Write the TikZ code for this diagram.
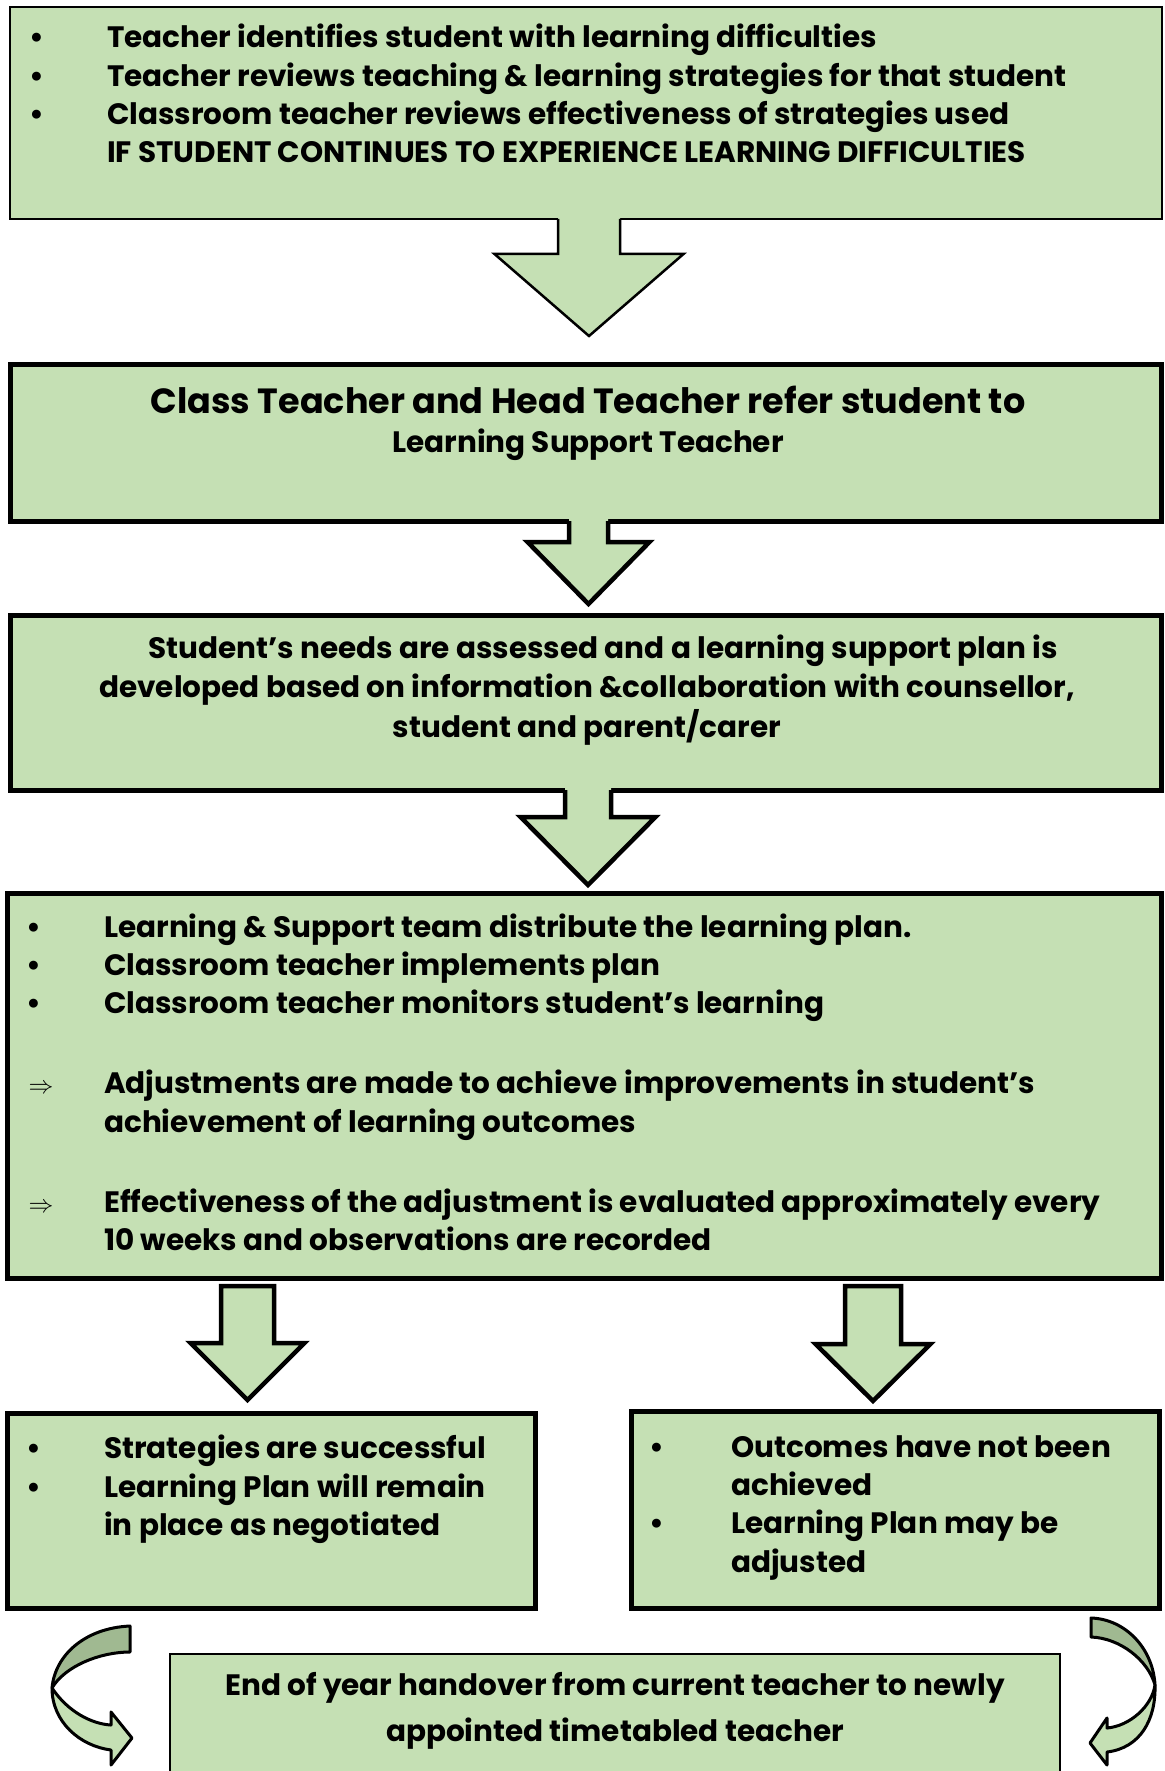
\documentclass[tikz,border=0pt]{standalone}
\usepackage{fontspec}
\setmainfont{Poppins}
\usetikzlibrary{calc}

\definecolor{boxgreen}{HTML}{C5E0B4}
\definecolor{ribbondark}{HTML}{A0B991}
\newcommand{\bodyfont}{\fontsize{29.5}{36}\selectfont\bfseries}
% block arrow that opens into the box above it
\newcommand{\blockarrow}[6][4.5pt]{%
  \fill[boxgreen] let \p1 = (#2.south), \p2 = (#3) in
    (\x2-#4, \y1+6pt) -- (\x2-#4, \y2+#6) -- (\x2-#5, \y2+#6) -- (\x2, \y2)
    -- (\x2+#5, \y2+#6) -- (\x2+#4, \y2+#6) -- (\x2+#4, \y1+6pt) -- cycle;
  \draw[arrowshape, line width = #1] let \p1 = (#2.south), \p2 = (#3) in
    (\x2-#4, \y1) -- (\x2-#4, \y2+#6) -- (\x2-#5, \y2+#6) -- (\x2, \y2)
    -- (\x2+#5, \y2+#6) -- (\x2+#4, \y2+#6) -- (\x2+#4, \y1);}
% block arrow standing free below a box
\newcommand{\droparrow}[5]{\draw[arrowshape, fill = boxgreen] let \p1 = (#1.south), \p2 = (#2) in
  (\x2-#3, \y1-8pt) -- (\x2-#3, \y2+#5) -- (\x2-#4, \y2+#5) -- (\x2, \y2)
  -- (\x2+#4, \y2+#5) -- (\x2+#3, \y2+#5) -- (\x2+#3, \y1-8pt) -- cycle;}

\tikzset{
  box/.style = {draw, fill = boxgreen, line width = 5pt, rectangle, inner sep = 0pt, outer sep = 0pt, anchor = north west},
  thinbox/.style = {box, line width = 2.5pt},
  arrowshape/.style = {draw, line width = 4.5pt, line join = miter},
  ribbon/.style = {draw, line width = 3pt, line join = round},
  txt/.style = {anchor = base west, inner sep = 0pt, font = \bodyfont},
  ctxt/.style = {txt, anchor = base},
  bul/.style = {anchor = base, inner sep = 0pt, font = \bodyfont},
}

\begin{document}
\begin{tikzpicture} [x = 1pt, y = -1pt]
\useasboundingbox (0.0, 0.0) rectangle (1164.0, 1771.0);
\node[thinbox, minimum width = 1152pt, minimum height = 212pt] (identify) at (10.0, 7.0){};
\node[box, minimum width = 1151pt, minimum height = 157pt] (refer) at (10.0, 364.0){};
\node[box, minimum width = 1151pt, minimum height = 175pt] (assess) at (10.0, 615.0){};
\node[box, minimum width = 1154pt, minimum height = 385pt] (plan) at (7.0, 893.0){};
\node[box, minimum width = 528pt, minimum height = 195pt] (success) at (7.0, 1413.0){};
\node[box, minimum width = 528pt, minimum height = 197pt] (notmet) at (631.0, 1411.0){};
\node[thinbox, minimum width = 890pt, minimum height = 140pt] (handover) at (170.0, 1654.0){};
\coordinate (tipA) at (589.0, 336.0);
\coordinate (tipB) at (588.5, 604.0);
\coordinate (tipC) at (588.0, 885.0);
\coordinate (tipD) at (247.5, 1400.0);
\coordinate (tipE) at (873.0, 1401.0);
\blockarrow[2.5pt]{identify}{tipA}{31pt}{94.5pt}{82pt}
\blockarrow{refer}{tipB}{19.5pt}{61pt}{62pt}
\blockarrow{assess}{tipC}{23pt}{67.5pt}{68pt}
\droparrow{plan}{tipD}{26.5pt}{57pt}{57pt}
\droparrow{plan}{tipE}{28pt}{57.5pt}{57pt}
\draw[ribbon, fill = ribbondark] (130.0, 1626.0) .. controls (85.0, 1628.0) and (55.0, 1655.0) .. (52.0, 1688.0) .. controls (65.0, 1666.0) and (100.0, 1652.0) .. (130.0, 1652.0) -- cycle;
\draw[ribbon, fill = boxgreen] (52.0, 1688.0) .. controls (68.0, 1712.0) and (92.0, 1724.0) .. (111.0, 1725.0) -- (111.0, 1712.0) -- (132.0, 1738.0) -- (111.0, 1765.0) -- (111.0, 1750.0) .. controls (80.0, 1746.0) and (52.0, 1722.0) .. (52.0, 1688.0) -- cycle;
\draw[ribbon, fill = ribbondark] (1091.0, 1618.0) .. controls (1125.0, 1619.0) and (1153.0, 1648.0) .. (1155.0, 1685.0) .. controls (1148.0, 1660.0) and (1120.0, 1638.0) .. (1091.0, 1637.0) -- cycle;
\draw[ribbon, fill = boxgreen] (1155.0, 1685.0) .. controls (1152.0, 1706.0) and (1130.0, 1726.0) .. (1107.0, 1728.0) -- (1107.0, 1718.0) -- (1090.0, 1743.0) -- (1107.0, 1765.0) -- (1107.0, 1752.0) .. controls (1140.0, 1748.0) and (1156.0, 1720.0) .. (1155.0, 1685.0) -- cycle;
% first box
\node[bul] (ba1) at (37.0, 48.0){•};
\node[bul] (ba2) at (37.0, 87.0){•};
\node[bul] (ba3) at (37.0, 125.0){•};
\node[txt] (ta1) at (107.0, 48.0){Teacher identifies student with learning difficulties};
\node[txt] (ta2) at (107.0, 87.0){Teacher reviews teaching \& learning strategies for that student};
\node[txt] (ta3) at (107.0, 125.0){Classroom teacher reviews effectiveness of strategies used};
\node[txt] (ta4) at (107.0, 163.0){IF STUDENT CONTINUES TO EXPERIENCE LEARNING DIFFICULTIES};
% referral
\node[ctxt, font = \fontsize{35}{42}\selectfont\bfseries] (tb1) at (588.0, 413.0){Class Teacher and Head Teacher refer student to};
\node[ctxt] (tb2) at (588.0, 452.0){Learning Support Teacher};
% assessment
\node[ctxt] (tc1) at (603.0, 658.0){Student’s needs are assessed and a learning support plan is};
\node[ctxt] (tc2) at (587.0, 697.0){developed based on information \&collaboration with counsellor,};
\node[ctxt] (tc3) at (587.0, 737.0){student and parent/carer};
% learning plan
\node[bul] (bd1) at (34.0, 937.0){•};
\node[bul] (bd2) at (34.0, 975.0){•};
\node[bul] (bd3) at (34.0, 1013.0){•};
\node[bul] (bd4) at (41.0, 1093.0){$\Rightarrow$};
\node[bul] (bd5) at (41.0, 1212.0){$\Rightarrow$};
\node[txt] (td1) at (104.0, 937.0){Learning \& Support team distribute the learning plan.};
\node[txt] (td2) at (104.0, 975.0){Classroom teacher implements plan};
\node[txt] (td3) at (104.0, 1013.0){Classroom teacher monitors student’s learning};
\node[txt] (td4) at (104.0, 1093.0){Adjustments are made to achieve improvements in student’s};
\node[txt] (td5) at (104.0, 1132.0){achievement of learning outcomes};
\node[txt] (td6) at (104.0, 1212.0){Effectiveness of the adjustment is evaluated approximately every};
\node[txt] (td7) at (104.0, 1250.0){10 weeks and observations are recorded};
% outcomes
\node[bul] (be1) at (34.0, 1458.0){•};
\node[bul] (be2) at (34.0, 1497.0){•};
\node[txt] (te1) at (104.0, 1458.0){Strategies are successful};
\node[txt] (te2) at (104.0, 1497.0){Learning Plan will remain};
\node[txt] (te3) at (104.0, 1535.0){in place as negotiated};
\node[bul] (bf1) at (657.0, 1457.0){•};
\node[bul] (bf2) at (657.0, 1533.0){•};
\node[txt] (tf1) at (731.0, 1457.0){Outcomes have not been};
\node[txt] (tf2) at (731.0, 1495.0){achieved};
\node[txt] (tf3) at (731.0, 1533.0){Learning Plan may be};
\node[txt] (tf4) at (731.0, 1572.0){adjusted};
% handover
\node[ctxt] (tg1) at (615.0, 1695.0){End of year handover from current teacher to newly};
\node[ctxt] (tg2) at (615.0, 1741.0){appointed timetabled teacher};
\end{tikzpicture}
\end{document}
